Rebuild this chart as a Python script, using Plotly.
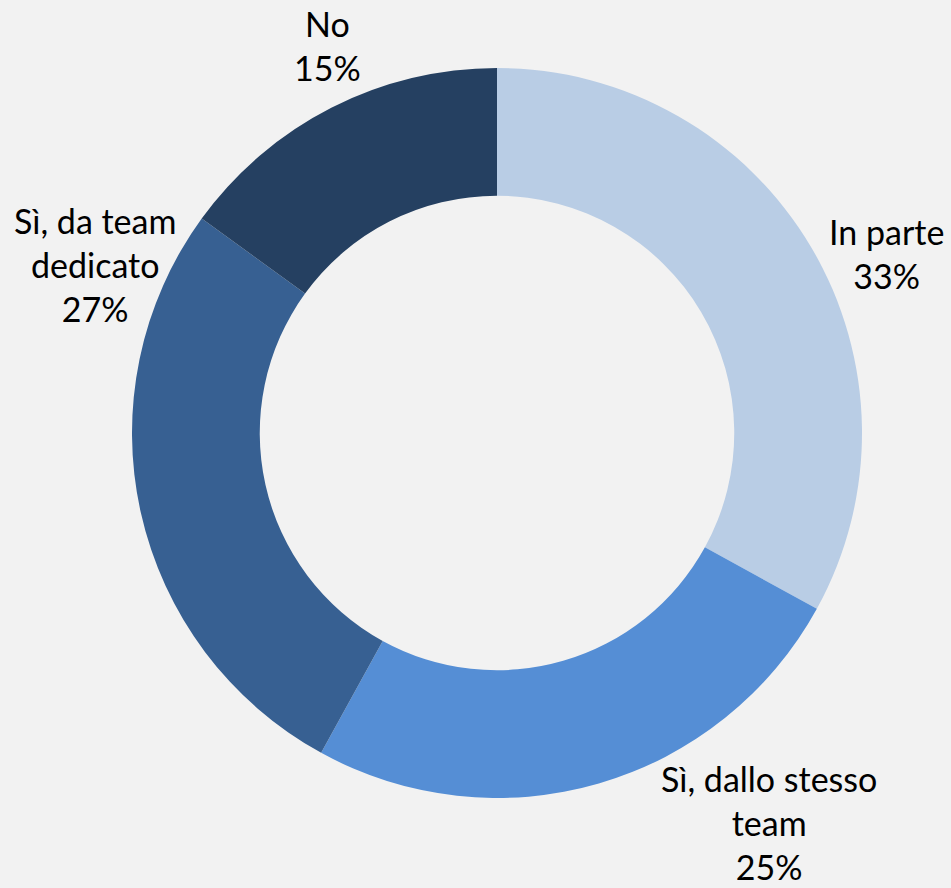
import plotly.graph_objects as go

# Survey answers and their shares (%)
categories = ["In parte", "Sì, dallo stesso team", "Sì, da team dedicato", "No"]
values = [33, 25, 27, 15]
colors = ["#B9CDE5", "#558ED5", "#376092", "#254061"]

# Wrapped versions of the category names for the outside labels
wrapped = {
    "In parte": "In parte",
    "Sì, dallo stesso team": "Sì, dallo stesso<br>team",
    "Sì, da team dedicato": "Sì, da team<br>dedicato",
    "No": "No",
}

# Label anchor points (paper coordinates), one per category
label_pos = {
    "In parte": (0.9317, 0.7145),
    "Sì, dallo stesso team": (0.8086, 0.0743),
    "Sì, da team dedicato": (0.0999, 0.7016),
    "No": (0.3449, 0.9493),
}

W, H = 951, 888
cx, cy, R = 497, 433, 365

fig = go.Figure(
    go.Pie(
        labels=categories,
        values=values,
        marker=dict(colors=colors, line=dict(width=0)),
        hole=0.65,
        sort=False,
        direction="clockwise",
        rotation=0,
        textinfo="none",
        showlegend=False,
        domain=dict(
            x=[(cx - R) / W, (cx + R) / W],
            y=[(H - cy - R) / H, (H - cy + R) / H],
        ),
    )
)

total = sum(values)
for cat, val in zip(categories, values):
    x, y = label_pos[cat]
    fig.add_annotation(
        x=x, y=y, xref="paper", yref="paper",
        text=f"{wrapped[cat]}<br>{round(100 * val / total)}%",
        showarrow=False, align="center",
        xanchor="center", yanchor="middle",
        font=dict(family="Lato, Carlito, sans-serif", size=34, color="#000000"),
    )

fig.update_layout(
    width=W, height=H,
    margin=dict(l=0, r=0, t=0, b=0),
    paper_bgcolor="#F2F2F2",
    plot_bgcolor="#F2F2F2",
)

fig.write_html("out.html")
